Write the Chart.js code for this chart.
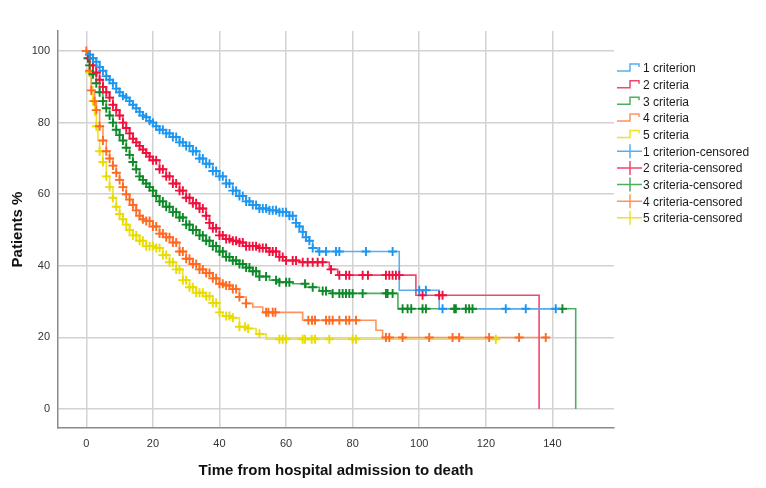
<!DOCTYPE html>
<html>
<head>
<meta charset="utf-8">
<script src="https://cdn.jsdelivr.net/npm/chart.js@4/dist/chart.umd.min.js"></script>
<style>
html, body { margin: 0; padding: 0; background: #fff; }
#wrap { width: 766px; height: 488px; position: relative; }
</style>
</head>
<body>
<div id="wrap"><canvas id="km"></canvas></div>
<script>
// Kaplan-Meier survival by number of criteria
const groupNames = ['1 criterion', '2 criteria', '3 criteria', '4 criteria', '5 criteria'];
const xTicks = [0, 20, 40, 60, 80, 100, 120, 140];
const yTicks = [0, 20, 40, 60, 80, 100];

// step curves: [time, survival %]
const curve1 = [[0,100],[1,99],[2,98],[3,97],[4,95.5],[5,94.5],[6,93],[7,92],[8,91],[9,89.5],[10,88.5],[11,87.5],[12,87],[13,86],[14,85],[15,84],[16,83],[17,82],[18,81.5],[19,80.5],[20,80],[21,79],[22,78],[24,77],[26,76],[28,74.5],[30,73.5],[32,72],[34,70],[36,68.5],[38,66.5],[40,65],[42,63],[44,61],[46,59.5],[48,58],[50,57],[52,56],[55,55.5],[58,55],[61,54],[63,52],[64,51],[65,49.5],[66,48],[67,47],[68,45],[69.5,44],[94,33.2],[106,28],[141,28]];
const curve2 = [[0,100],[1,98],[2,96],[3,94],[4,92],[5,90],[6,88.5],[7,87],[8,85],[9,83.5],[10,82],[11,80],[12,78.5],[13,77],[14,75.5],[15,74.5],[16,73.5],[17,72.5],[18,71.5],[19,70.5],[20,69.5],[22,67],[24,65],[26,63],[28,61],[30,59],[32,57.5],[34,56],[36,54],[37,52],[38,50.5],[40,48.5],[42,47.5],[44,47],[46,46.5],[48,45.5],[52,45],[55,44],[58,42.5],[60,41.5],[64,41],[73,39],[75.5,37.4],[99,31.8],[136,0]];
const curve3 = [[0,100],[0.5,98],[1,96],[2,93.5],[3,91],[4,88.5],[5,86],[6,84],[7,82],[8,80],[9,78],[10,76.5],[11,75],[12,73],[13,71],[14,69],[15,67],[16,65],[17,64],[18,63],[19,62],[20,61],[21,59.5],[22,58],[24,56.5],[26,55],[28,53.5],[30,51.5],[32,50],[34,48.5],[36,47],[38,45.5],[40,44],[42,42.5],[44,41.5],[46,40.5],[48,39.5],[50,38.5],[52,37],[55,36],[58,35.4],[62,35],[66,34],[70,33],[73.5,32.3],[93.6,28],[147,0]];
const curve4 = [[0,100],[0.5,97],[1,94.5],[1.5,89],[2.5,86],[3,83.5],[4,79],[5,75],[6,72],[7,70],[8,68],[9,66],[10,64],[11,62],[12,60],[13,58.5],[14,57],[15,55.5],[16,54],[17,53],[18,52.5],[20,51],[22,49],[24,48],[26,46.5],[28,44],[30,42],[32,40.5],[34,39],[36,38],[38,36.5],[40,35],[42,34.5],[44,33.5],[46,31.3],[48,29.5],[50,28.5],[53,27],[65,24.8],[87,22],[89,20],[138.5,20]];
const curve5 = [[0,100],[0.5,97],[1,94],[1.5,90],[2,86],[2.5,82],[3,79],[3.5,75],[4,72],[5,69],[6,65],[7,62],[8,59],[9,56.5],[10,54.5],[11,53],[12,51.5],[13,50],[14,48.5],[16,47],[18,45.5],[21,45],[23,43],[25,41],[27,39],[29,36],[31,34],[33,32.5],[36,31.5],[38,29.6],[40,27],[41,26],[44,25.5],[46,23],[48,22.5],[51,21],[54,19.5],[123,19.5]];

// censored times
const cens1 = [1,2,3,4,5,6,7,8,9,10,11,12,13,14,15,16,17,18,19,20,21,22,23,24,25,26,27,28,29,30,31,32,33,34,35,36,37,38,39,40,41,42,43,44,45,46,47,48,49,50,51,52,53,54,55,56,57,58,59,60,61,62,63,64,65,66,67,68,70,72,75,76,84,92,100,102,107,126,132,141];
const cens2 = [1,2,3,4,5,6,7,8,9,10,11,12,13,14,15,16,17,18,19,20,21,22,23,24,25,26,27,28,29,30,31,32,33,34,35,36,37,38,39,40,41,42,43,44,45,46,47,48,49,50,51,52,53,54,55,56,57,58,59,60,62,63,65,66.5,68,69.5,71,73.5,76,78,79,83,84.6,90,91,92,93,94,101,106,107];
const cens3 = [0.5,1,2,3,4,5,6,7,8,9,10,11,12,13,14,15,16,17,18,19,20,21,22,23,24,25,26,27,28,29,30,31,32,33,34,35,36,37,38,39,40,41,42,43,44,45,46,47,48,49,50,51,52,54,57,58,60,61,65.7,68,71,72,74,76,77,78,79,80,83,90,90.5,92,95,96.5,97.6,101,102,110.5,111,114,115,116,143];
const cens4 = [0,1,1.5,2.5,3,4,5,6,7,8,9,10,11,12,13,14,15,16,17,18,19,20,21,22,23,24,25,26,27,28,29,30,31,32,33,34,35,36,37,38,39,40,41,42,43,44,45,46,48,54,54.7,56,56.8,66.7,67.8,68.7,72,73,74,76,78,79,81,90,91,95,103,110,112,121,130,138];
const cens5 = [1,2,3,4,5,6,7,8,9,10,11,12,13,14,15,16,17,18,19,20,21,22,23,24,25,26,27,28,29,30,31,32,33,34,35,36,37,38,39,40,42,43,44,46,47.7,48.6,52,58,59,60,65,65.7,67.7,68.7,73,80,81,123];

const curves = [curve1, curve2, curve3, curve4, curve5];
const censored = [cens1, cens2, cens3, cens4, cens5];
const lineColors = ['#5aaef0', '#f2466c', '#4caf5f', '#ff935e', '#f0e02c'];
const markColors = ['#1e96f0', '#f0103c', '#0f882a', '#ff6a20', '#e8dc00'];

// survival value of a step curve at time t
function stepValue(curve, t) {
  let v = curve[0][1];
  for (const [ti, si] of curve) {
    if (ti <= t) v = si;
  }
  return v;
}

const datasets = [];
curves.forEach((c, i) => {
  datasets.push({
    label: groupNames[i],
    data: c.map(p => ({x: p[0], y: p[1]})),
    stepped: true,
    borderColor: lineColors[i],
    borderWidth: 1.6,
    pointRadius: 0,
    fill: false,
    order: 2
  });
});
censored.forEach((c, i) => {
  datasets.push({
    label: groupNames[i] + '-censored',
    data: c.map(t => ({x: t, y: stepValue(curves[i], t)})),
    showLine: false,
    pointStyle: 'cross',
    pointRadius: 4.5,
    pointBorderWidth: 1.9,
    borderColor: markColors[i],
    backgroundColor: markColors[i],
    order: 1
  });
});

const legendLabels = groupNames.concat(groupNames.map(n => n + '-censored'));

const kmLegend = {
  id: 'kmLegend',
  afterDraw(chart) {
    const ctx = chart.ctx;
    ctx.save();
    ctx.font = '12px "Liberation Sans", Arial, sans-serif';
    ctx.textBaseline = 'middle';
    const x0 = 617, y0 = 68, gap = 16.65;
    legendLabels.forEach((lab, i) => {
      const y = y0 + i * gap;
      ctx.lineWidth = 1.5;
      if (i < 5) {
        ctx.strokeStyle = lineColors[i];
        ctx.beginPath();
        ctx.moveTo(x0, y + 3);
        ctx.lineTo(x0 + 13, y + 3);
        ctx.lineTo(x0 + 13, y - 4);
        ctx.lineTo(x0 + 22, y - 4);
        ctx.lineTo(x0 + 22, y - 1);
        ctx.stroke();
      } else {
        ctx.strokeStyle = lineColors[i - 5];
        ctx.beginPath();
        ctx.moveTo(x0, y);
        ctx.lineTo(x0 + 25, y);
        ctx.moveTo(x0 + 13, y - 7);
        ctx.lineTo(x0 + 13, y + 7);
        ctx.stroke();
      }
      ctx.fillStyle = '#1a1a1a';
      ctx.fillText(lab, x0 + 26, y + 1);
    });
    ctx.restore();
  }
};

new Chart(document.getElementById('km'), {
  type: 'line',
  data: { datasets: datasets },
  options: {
    responsive: true,
    maintainAspectRatio: false,
    animation: false,
    layout: { padding: { top: 31, right: 152, left: 0, bottom: 0 } },
    plugins: {
      legend: { display: false },
      tooltip: { enabled: false }
    },
    scales: {
      x: {
        type: 'linear',
        min: -8.5,
        max: 158.5,
        afterBuildTicks: s => { s.ticks = xTicks.map(v => ({value: v})); },
        afterFit: s => { s.height = 60; },
        grid: { color: '#d2d2d2', lineWidth: 1.5, drawTicks: false },
        border: { color: '#8a8a8a', width: 1.5 },
        ticks: { color: '#333', font: { size: 11, family: 'Liberation Sans' }, padding: 9 },
        title: {
          display: true,
          text: 'Time from hospital admission to death',
          color: '#111',
          font: { size: 15, weight: 'bold', family: 'Liberation Sans' },
          padding: { top: 4, bottom: 8 }
        }
      },
      y: {
        min: -5.3,
        max: 105.6,
        afterBuildTicks: s => { s.ticks = yTicks.map(v => ({value: v})); },
        afterFit: s => { s.width = 58; },
        grid: { color: '#d2d2d2', lineWidth: 1.5, drawTicks: false },
        border: { color: '#8a8a8a', width: 1.5 },
        ticks: { color: '#333', font: { size: 11, family: 'Liberation Sans' }, padding: 8 },
        title: {
          display: true,
          text: 'Patients %',
          color: '#111',
          font: { size: 15, weight: 'bold', family: 'Liberation Sans' },
          padding: { top: 9, bottom: 4 }
        }
      }
    }
  },
  plugins: [kmLegend]
});
</script>
</body>
</html>
